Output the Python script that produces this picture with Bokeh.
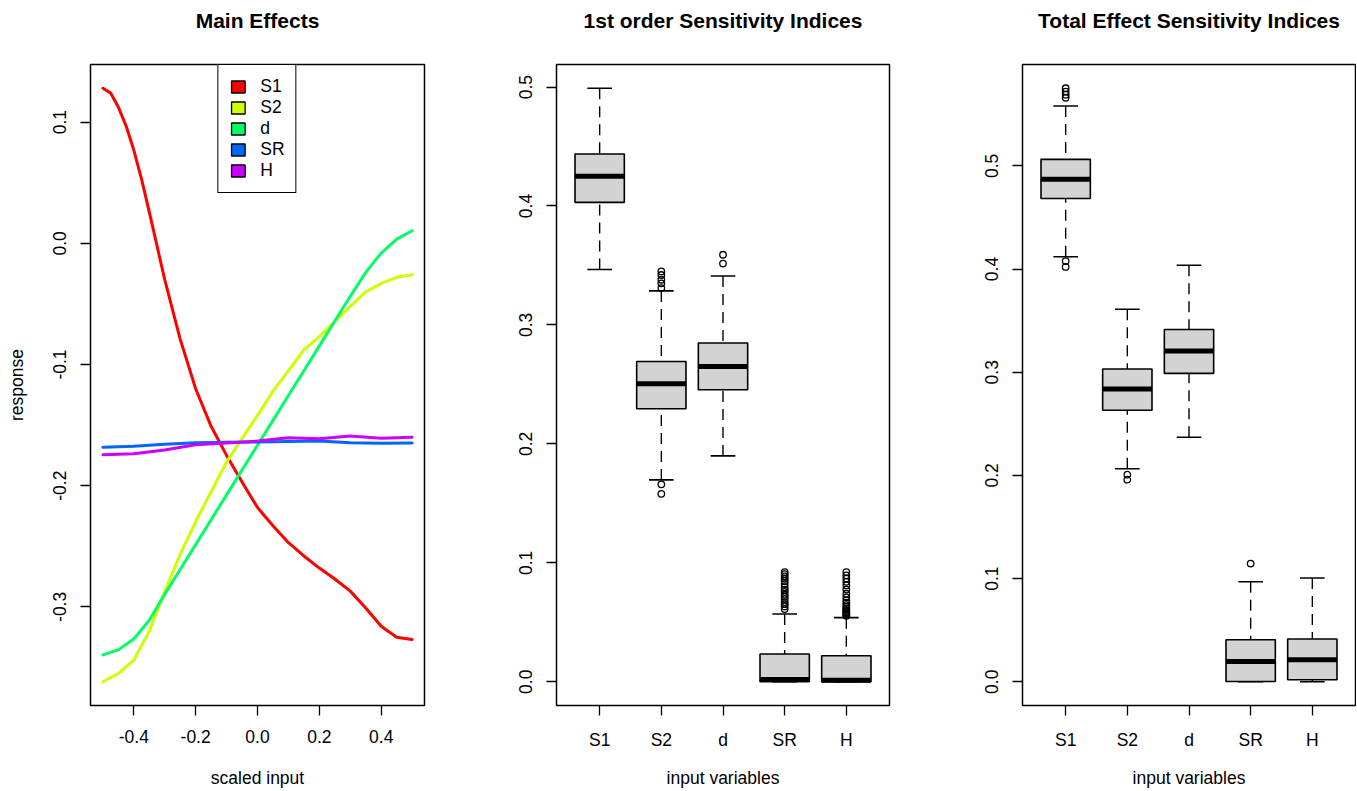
import numpy as np
from bokeh.plotting import figure
from bokeh.layouts import row, column
from bokeh.models import Range1d, FixedTicker, LinearAxis, Legend, LegendItem, Label
from bokeh.embed import file_html
from bokeh.resources import INLINE

FONT = "Liberation Sans"

# ---------------- data: main effects ----------------
s1_input = [-0.5, -0.475, -0.45, -0.425, -0.4, -0.375, -0.35, -0.325, -0.3, -0.25, -0.2, -0.15,
            -0.1, -0.05, 0.0, 0.05, 0.1, 0.15, 0.2, 0.25, 0.3, 0.35, 0.4, 0.45, 0.5]
me_S1 = [0.128, 0.124, 0.1125, 0.097, 0.077, 0.053, 0.026, -0.002, -0.030, -0.079, -0.120, -0.151,
         -0.175, -0.197, -0.218, -0.233, -0.247, -0.258, -0.268, -0.277, -0.287, -0.301, -0.316,
         -0.325, -0.327]
scaled_input = [-0.5, -0.45, -0.4, -0.35, -0.3, -0.25, -0.2, -0.15, -0.1, -0.05, 0.0,
                0.05, 0.1, 0.15, 0.2, 0.25, 0.3, 0.35, 0.4, 0.45, 0.5]
me_S2 = [-0.3618, -0.355, -0.344, -0.320, -0.2873, -0.2567, -0.2296, -0.205, -0.1805, -0.161, -0.142,
         -0.122, -0.105, -0.088, -0.077, -0.0645, -0.052, -0.040, -0.033, -0.028, -0.026]
me_d = [-0.3396, -0.3355, -0.3265, -0.3110, -0.2896, -0.2691, -0.2486, -0.2281, -0.2076, -0.1871, -0.1666,
        -0.1461, -0.1256, -0.1051, -0.0846, -0.0641, -0.0436, -0.0240, -0.0080, 0.0035, 0.0104]
coarse_input = [-0.5, -0.4, -0.3, -0.2, -0.1, 0.0, 0.1, 0.2, 0.3, 0.4, 0.5]
me_SR = [-0.1682, -0.1675, -0.1658, -0.1645, -0.1642, -0.1640, -0.1635, -0.1632, -0.1645, -0.1650, -0.1648]
me_H = [-0.1745, -0.1736, -0.1705, -0.1662, -0.1647, -0.1632, -0.1605, -0.1613, -0.1590, -0.1608, -0.1600]

var_names = ["S1", "S2", "d", "SR", "H"]
var_colors = ["#FF0000", "#CCFF00", "#00FF66", "#0066FF", "#CC00FF"]

# ---------------- data: 1st order indices (boxplot stats) ----------------
fo_low = [0.3466, 0.1697, 0.1899, 0.0, 0.0]
fo_q1 = [0.4030, 0.2295, 0.2455, 0.0, 0.0]
fo_med = [0.4250, 0.2505, 0.2651, 0.0020, 0.0012]
fo_q3 = [0.4437, 0.2693, 0.2848, 0.0233, 0.0219]
fo_high = [0.4990, 0.3286, 0.3412, 0.0570, 0.0539]
fo_out = [
    [],
    [0.158, 0.166, 0.331, 0.335, 0.338, 0.342, 0.345],
    [0.3516, 0.359],
    [0.0611, 0.0633, 0.0652, 0.0670, 0.0695, 0.0715, 0.0732, 0.0755, 0.0774, 0.0795,
     0.0822, 0.0847, 0.0865, 0.0886, 0.0905, 0.0922],
    [0.0555, 0.0565, 0.0575, 0.0585, 0.0595, 0.0605, 0.0617, 0.0630, 0.0645, 0.0665,
     0.0685, 0.0710, 0.0740, 0.0775, 0.0810, 0.0840, 0.0868, 0.0895, 0.0922],
]

# ---------------- data: total effect indices ----------------
te_low = [0.4119, 0.2065, 0.2370, 0.0, 0.0]
te_q1 = [0.4683, 0.2631, 0.2989, 0.0003, 0.0020]
te_med = [0.4870, 0.2838, 0.3205, 0.0196, 0.0213]
te_q3 = [0.5063, 0.3031, 0.3414, 0.0407, 0.0415]
te_high = [0.5580, 0.3610, 0.4036, 0.0969, 0.1005]
te_out = [
    [0.4020, 0.4077, 0.5660, 0.5690, 0.5720, 0.5752],
    [0.1958, 0.2007],
    [],
    [0.1145],
    [],
]

y_tick_vals_me = [-0.3, -0.2, -0.1, 0.0, 0.1]
y_tick_labels_me = ["-0.3", "-0.2", "-0.1", "0.0", "0.1"]
x_tick_vals_me = [-0.4, -0.2, 0.0, 0.2, 0.4]
x_tick_labels_me = ["-0.4", "-0.2", "0.0", "0.2", "0.4"]
y_tick_vals_si = [0.0, 0.1, 0.2, 0.3, 0.4, 0.5]
y_tick_labels_si = ["0.0", "0.1", "0.2", "0.3", "0.4", "0.5"]

H_MAIN = 760
H_STRIP = 30
FRAME_TOP = 64
FRAME_H = 641


def padded(lo, hi):
    d = (hi - lo) * 0.04
    return Range1d(lo - d, hi + d)


def make_fig(width, left, right, xr, yr):
    p = figure(width=width, height=H_MAIN, x_range=xr, y_range=yr,
               toolbar_location=None, output_backend="svg",
               min_border_left=left, min_border_right=right,
               min_border_top=FRAME_TOP, min_border_bottom=H_MAIN - FRAME_TOP - FRAME_H)
    p.xgrid.visible = False
    p.ygrid.visible = False
    p.outline_line_color = "black"
    p.outline_line_width = 1.5
    p.outline_line_alpha = 1.0
    p.background_fill_color = "white"
    p.border_fill_color = "white"
    for ax in list(p.xaxis) + list(p.yaxis):
        ax.axis_line_color = None
        ax.major_tick_in = 0
        ax.major_tick_out = 10
        ax.major_tick_line_color = "black"
        ax.major_tick_line_width = 1.3
        ax.minor_tick_line_color = None
        ax.major_label_text_font = FONT
        ax.major_label_text_font_size = "17.5px"
        ax.major_label_text_color = "black"
        ax.axis_label_text_font = FONT
        ax.axis_label_text_font_size = "17.5px"
        ax.axis_label_text_font_style = "normal"
        ax.axis_label_text_color = "black"
    p.xaxis.major_label_standoff = 14
    p.yaxis.major_label_standoff = 14
    p.yaxis.axis_label_standoff = 24
    p.yaxis.major_label_orientation = "vertical"
    return p


def make_xlabel_strip(main, left, right, text):
    # strip under a panel carrying its x-axis title; shares the panel's x range
    s = figure(width=main.width, height=H_STRIP, x_range=main.x_range, y_range=Range1d(0, 1),
               toolbar_location=None, output_backend="svg",
               x_axis_location=None, y_axis_location=None,
               min_border_left=left, min_border_right=right, min_border_top=0, min_border_bottom=0)
    s.xgrid.visible = False
    s.ygrid.visible = False
    s.outline_line_color = None
    s.background_fill_color = "white"
    s.border_fill_color = "white"
    xr = main.x_range
    s.add_layout(Label(x=(xr.start + xr.end) / 2, y=0.42, text=text, text_align="center",
                       text_baseline="middle", text_font=FONT, text_font_size="17.5px",
                       text_color="black"))
    return s


def add_title(p, text):
    ax = LinearAxis(ticker=FixedTicker(ticks=[]), axis_label=text,
                    axis_line_color=None, major_tick_line_color=None,
                    minor_tick_line_color=None, major_tick_out=0, major_tick_in=0,
                    major_label_standoff=0,
                    axis_label_standoff=33, axis_label_text_font=FONT,
                    axis_label_text_font_size="21px", axis_label_text_font_style="bold",
                    axis_label_text_color="black")
    p.add_layout(ax, "above")


def draw_boxes(p, low, q1, med, q3, high, outliers):
    pos = np.arange(1, len(low) + 1, dtype=float)
    low, q1, med, q3, high = (np.asarray(a, dtype=float) for a in (low, q1, med, q3, high))
    bw, cw = 0.8, 0.4
    p.segment(x0=pos, y0=high, x1=pos, y1=q3, line_color="black", line_width=1.4, line_dash="11 7")
    p.segment(x0=pos, y0=low, x1=pos, y1=q1, line_color="black", line_width=1.4, line_dash="11 7")
    p.segment(x0=pos - cw / 2, y0=high, x1=pos + cw / 2, y1=high, line_color="black", line_width=1.6)
    p.segment(x0=pos - cw / 2, y0=low, x1=pos + cw / 2, y1=low, line_color="black", line_width=1.6)
    p.quad(left=pos - bw / 2, right=pos + bw / 2, bottom=q1, top=q3,
           fill_color="#D3D3D3", line_color="black", line_width=1.6)
    p.segment(x0=pos - bw / 2, y0=med, x1=pos + bw / 2, y1=med,
              line_color="black", line_width=5, line_cap="butt")
    ox, oy = [], []
    for i, outs in enumerate(outliers):
        ox += [pos[i]] * len(outs)
        oy += list(outs)
    p.scatter(ox, oy, marker="circle", size=6.5, fill_color=None,
              line_color="black", line_width=1.3)


def set_cat_axis(p):
    p.xaxis.ticker = FixedTicker(ticks=list(range(1, len(var_names) + 1)))
    p.xaxis.major_label_overrides = {i + 1: n for i, n in enumerate(var_names)}
    p.yaxis.ticker = FixedTicker(ticks=y_tick_vals_si)
    p.yaxis.major_label_overrides = dict(zip(y_tick_vals_si, y_tick_labels_si))


# ---------------- panel 1 ----------------
all_me = me_S1 + me_S2 + me_d + me_SR + me_H
p1 = make_fig(490, 90, 66, padded(min(scaled_input), max(scaled_input)),
              padded(min(all_me), max(all_me)))
p1.yaxis.axis_label = "response"
p1.xaxis.ticker = FixedTicker(ticks=x_tick_vals_me)
p1.xaxis.major_label_overrides = dict(zip(x_tick_vals_me, x_tick_labels_me))
p1.yaxis.ticker = FixedTicker(ticks=y_tick_vals_me)
p1.yaxis.major_label_overrides = dict(zip(y_tick_vals_me, y_tick_labels_me))

series = [(s1_input, me_S1), (scaled_input, me_S2), (scaled_input, me_d),
          (coarse_input, me_SR), (coarse_input, me_H)]
for (xs, ys), col in zip(series, var_colors):
    p1.line(xs, ys, line_color=col, line_width=3, line_join="round", line_cap="round")

items = []
for name, col in zip(var_names, var_colors):
    r = p1.quad(left=[np.nan], right=[np.nan], top=[np.nan], bottom=[np.nan], fill_color=col,
                line_color="black", line_width=1.3)
    items.append(LegendItem(label=name, renderers=[r]))
leg = Legend(items=items, location="top_center", margin=0, padding=11, spacing=0,
             glyph_width=17, glyph_height=15, label_standoff=14, label_height=20,
             label_text_font=FONT, label_text_font_size="17.5px", label_text_color="black",
             border_line_color="black", border_line_width=1.5, border_line_alpha=1.0,
             background_fill_color="white", background_fill_alpha=1.0)
p1.add_layout(leg)
add_title(p1, "Main Effects")
s1 = make_xlabel_strip(p1, 90, 66, "scaled input")

# ---------------- panel 2 ----------------
fo_all = fo_low + fo_high + [v for o in fo_out for v in o]
p2 = make_fig(465, 66, 66, padded(0.5, len(var_names) + 0.5), padded(min(fo_all), max(fo_all)))
set_cat_axis(p2)
draw_boxes(p2, fo_low, fo_q1, fo_med, fo_q3, fo_high, fo_out)
add_title(p2, "1st order Sensitivity Indices")
s2 = make_xlabel_strip(p2, 66, 66, "input variables")

# ---------------- panel 3 ----------------
te_all = te_low + te_high + [v for o in te_out for v in o]
p3 = make_fig(401, 67, 1, padded(0.5, len(var_names) + 0.5), padded(min(te_all), max(te_all)))
set_cat_axis(p3)
draw_boxes(p3, te_low, te_q1, te_med, te_q3, te_high, te_out)
add_title(p3, "Total Effect Sensitivity Indices")
s3 = make_xlabel_strip(p3, 67, 1, "input variables")

layout = column(row(p1, p2, p3), row(s1, s2, s3))
open("out.html", "w").write(file_html(layout, INLINE))
